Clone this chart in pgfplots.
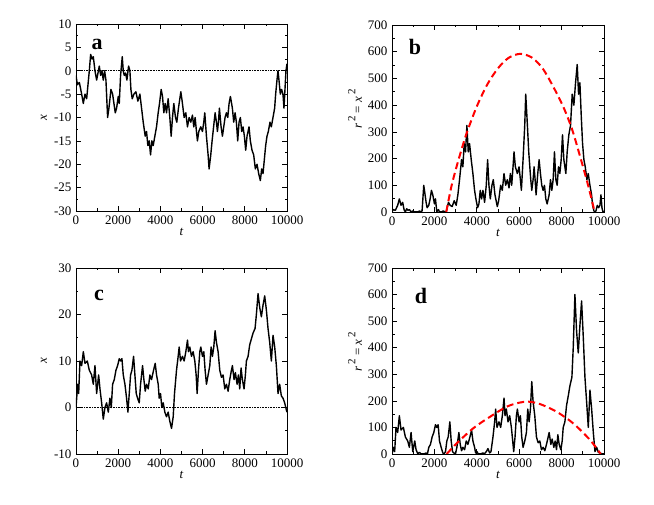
\documentclass[border=0pt]{standalone}
\usepackage{fontspec}
\setmainfont{Liberation Serif}
\usepackage{pgfplots}
\pgfplotsset{compat=1.18}

\pgfplotstableread{
t x
0 -1
63 -3
158 -2.5
268 -5
347 -7
426 -5
505 -6
568 -3
631 0
694 3.5
757 2.5
820 3
899 0
978 -2
1041 -0.5
1104 1
1167 -1
1230 0
1293 -2
1356 0
1419 -2
1498 -10
1561 -8
1609 -6
1656 -4
1735 -5
1798 -7
1861 -9
1924 -8
2003 -5.5
2050 -7
2113 -1
2192 3
2239 0
2287 -1
2350 -0.5
2413 -2
2492 1
2555 0
2602 -4
2665 -6
2744 -5
2839 -4.5
2933 -6.5
3028 -5
3107 -8
3186 -11
3280 -14
3343 -13
3406 -16
3469 -15
3533 -18
3596 -15
3659 -16
3737 -14
3816 -12
3895 -9
3958 -7
4037 -4
4100 -5.5
4163 -9
4226 -7
4290 -9
4368 -6
4447 -10
4510 -14
4573 -10
4636 -7
4715 -10
4778 -11
4857 -8
4968 -4.5
5031 -6.5
5125 -10
5204 -9
5283 -12
5362 -10
5441 -11
5520 -9.5
5583 -12
5646 -10
5709 -13
5756 -15
5819 -13
5914 -12
5993 -13
6056 -11
6103 -9
6182 -14
6261 -18
6308 -21
6387 -18
6450 -15
6545 -11
6593 -9
6656 -11
6703 -13
6750 -11
6797 -8
6876 -12
6939 -14
7002 -12
7065 -10
7128 -9
7192 -10
7255 -7
7318 -5.5
7412 -8
7475 -11
7539 -9
7601 -11
7664 -15
7728 -11
7791 -10
7854 -13
7917 -12
7980 -14
8043 -17
8106 -14
8200 -12
8263 -15
8342 -17
8421 -18
8500 -21
8579 -20
8658 -22
8737 -23.5
8800 -21
8863 -22
8926 -19
8989 -16
9052 -14
9115 -13
9194 -11
9257 -12
9336 -10
9415 -8
9462 -5
9525 -2
9573 0
9620 -2
9683 -5
9746 -4
9809 -5
9856 -8
9904 -4
9951 0
10000 1.5
}\dataA

\pgfplotstableread{
t r
0 1
63 9
158 6.25
268 25
347 49
426 25
505 36
568 9
631 0
694 12.25
757 6.25
820 9
899 0
978 4
1041 0.25
1104 1
1167 1
1230 0
1293 4
1356 0
1419 4
1498 100
1561 64
1609 36
1656 16
1735 25
1798 49
1861 81
1924 64
2003 30.25
2050 49
2113 1
2192 9
2239 0
2287 1
2350 0.25
2413 4
2492 1
2555 0
2602 16
2665 36
2744 25
2839 20.25
2933 42.25
3028 25
3107 64
3186 121
3280 196
3343 169
3406 256
3469 225
3533 324
3596 225
3659 256
3737 196
3816 144
3895 81
3958 49
4037 16
4100 30.25
4163 81
4226 49
4290 81
4368 36
4447 100
4510 196
4573 100
4636 49
4715 100
4778 121
4857 64
4968 20.25
5031 42.25
5125 100
5204 81
5283 144
5362 100
5441 121
5520 90.25
5583 144
5646 100
5709 169
5756 225
5819 169
5914 144
5993 169
6056 121
6103 81
6182 196
6261 324
6308 441
6387 324
6450 225
6545 121
6593 81
6656 121
6703 169
6750 121
6797 64
6876 144
6939 196
7002 144
7065 100
7128 81
7192 100
7255 49
7318 30.25
7412 64
7475 121
7539 81
7601 121
7664 225
7728 121
7791 100
7854 169
7917 144
7980 196
8043 289
8106 196
8200 144
8263 225
8342 289
8421 324
8500 441
8579 400
8658 484
8737 552.25
8800 441
8863 484
8926 361
8989 256
9052 196
9115 169
9194 121
9257 144
9336 100
9415 64
9462 25
9525 4
9573 0
9620 4
9683 25
9746 16
9809 25
9856 64
9904 16
9951 0
10000 2.25
}\dataB

\pgfplotstableread{
t x
0 0
79 5
126 3
189 10
268 9
347 12
426 9.5
536 10
631 8
741 7
820 5
899 9
978 3
1073 7
1136 4
1215 1
1293 -2.5
1372 0
1451 1
1530 -1
1609 2
1672 0
1735 5
1814 6
1893 8
1972 9
2050 10.5
2114 10
2177 10.5
2240 7
2319 5
2397 2
2461 -1
2524 3
2587 7
2650 8
2729 11
2792 7
2855 3
2918 2
2997 1
3060 5
3155 9
3218 6
3281 3.5
3344 5
3423 4
3502 7
3580 6
3675 8
3754 9.5
3817 7
3896 5
3943 2
4006 3
4069 0
4133 1
4211 -1
4290 -2
4369 -1
4448 -3
4527 -4.5
4606 -2
4669 3
4763 8
4842 11
4890 13
4953 10
5047 11
5126 10
5205 12
5284 14.5
5331 12
5394 13
5473 11
5552 12
5631 10
5694 7
5741 3
5804 8
5868 12
5915 13
5994 11
6057 12
6120 8
6183 5
6262 7
6341 9
6404 13
6467 11
6530 13
6593 16.5
6656 14
6735 12
6814 8
6893 6.5
6972 7
7051 4
7129 5
7208 3.5
7287 6
7366 8
7413 9
7492 6
7555 7.5
7634 5
7697 7
7760 4
7823 8.5
7886 6
7965 4
8028 7
8076 10
8155 11
8233 13.5
8328 15
8391 16
8486 17
8549 20
8628 24.5
8707 21.5
8786 19.5
8864 22
8943 24
9022 21
9101 17
9180 14
9259 10
9338 15.5
9417 13
9496 9
9575 3
9653 5
9732 2.5
9811 2
9890 1
9969 -0.5
10000 -1
}\dataC

\pgfplotstableread{
t r
0 0
79 25
126 9
189 100
268 81
347 144
426 90.25
536 100
631 64
741 49
820 25
899 81
978 9
1073 49
1136 16
1215 1
1293 6.25
1372 0
1451 1
1530 1
1609 4
1672 0
1735 25
1814 36
1893 64
1972 81
2050 110.25
2114 100
2177 110.25
2240 49
2319 25
2397 4
2461 1
2524 9
2587 49
2650 64
2729 121
2792 49
2855 9
2918 4
2997 1
3060 25
3155 81
3218 36
3281 12.25
3344 25
3423 16
3502 49
3580 36
3675 64
3754 90.25
3817 49
3896 25
3943 4
4006 9
4069 0
4133 1
4211 1
4290 4
4369 1
4448 9
4527 20.25
4606 4
4669 9
4763 64
4842 121
4890 169
4953 100
5047 121
5126 100
5205 144
5284 210.25
5331 144
5394 169
5473 121
5552 144
5631 100
5694 49
5741 9
5804 64
5868 144
5915 169
5994 121
6057 144
6120 64
6183 25
6262 49
6341 81
6404 169
6467 121
6530 169
6593 272.25
6656 196
6735 144
6814 64
6893 42.25
6972 49
7051 16
7129 25
7208 12.25
7287 36
7366 64
7413 81
7492 36
7555 56.25
7634 25
7697 49
7760 16
7823 72.25
7886 36
7965 16
8028 49
8076 100
8155 121
8233 182.25
8328 225
8391 256
8486 289
8549 400
8628 600.25
8707 462.25
8786 380.25
8864 484
8943 576
9022 441
9101 289
9180 196
9259 100
9338 240.25
9417 169
9496 81
9575 9
9653 25
9732 6.25
9811 4
9890 1
9969 0.25
10000 1
}\dataD

\newcommand{\lfont}{\fontsize{13}{13}\selectfont}
\newcommand{\rlabel}{\textit{r}\raisebox{0.5em}{\fontsize{11}{11}\selectfont\,2} = \textit{x}\raisebox{0.5em}{\fontsize{11}{11}\selectfont\,2}}

\pgfplotsset{
  panel/.style={
    scale only axis, width=211pt, height=187pt,
    xmin=0, xmax=10000, xtick={0,2000,...,10000},
    minor x tick num=1, minor y tick num=1,
    tick align=inside,
    major tick length=5pt, minor tick length=2.5pt,
    axis line style={line width=0.8pt},
    every tick/.append style={black, line width=0.7pt},
    scaled x ticks=false, scaled y ticks=false,
    /pgf/number format/1000 sep={},
    /pgf/number format/assume math mode=true,
    tick label style={font=\lfont},
    xticklabel style={yshift=-1pt},
    yticklabel style={xshift=-1pt},
    xlabel={\textit{t}},
    every axis x label/.style={at={(axis description cs:0.5,-0.112)}, anchor=center, font=\lfont},
  },
  walk/.style={black, line width=1.4pt, line join=round, no marks},
  fit/.style={red, line width=2pt, dash pattern=on 7pt off 4pt, smooth, no marks},
  zero/.style={black, densely dotted, line width=0.6pt, no marks},
}

\newcommand{\plab}[1]{\fontsize{22}{22}\selectfont\bfseries #1}

\begin{document}
\begin{tikzpicture}
\useasboundingbox (0,0) rectangle (654pt,505pt);

% panel a
\begin{axis}[panel, at={(76pt,294pt)}, anchor=south west,
  ymin=-30, ymax=10, ytick={-30,-25,...,10},
  ylabel={\textit{x}},
  every axis y label/.style={at={(axis description cs:-0.152,0.5)}, anchor=center, rotate=90, font=\lfont}]
\addplot[zero] coordinates {(0,0) (10000,0)};
\addplot[walk] table[x=t,y=x] {\dataA};
\node at (axis description cs:0.10,0.888) {\plab{a}};
\end{axis}

% panel b
\begin{axis}[panel, at={(392pt,293pt)}, anchor=south west, width=212pt,
  ymin=0, ymax=700, ytick={0,100,...,700},
  ylabel={\rlabel},
  every axis y label/.style={at={(axis description cs:-0.175,0.55)}, anchor=center, rotate=90, font=\lfont}]
\addplot[walk] table[x=t,y=r] {\dataB};
\addplot[fit] coordinates {(2560,0) (2800,95) (3100,185) (3500,290) (4000,395) (4500,478) (5000,538) (5500,577) (6050,592) (6600,578) (7100,538) (7600,470) (8100,390) (8500,308) (8900,200) (9250,100) (9560,0)};
\node at (axis description cs:0.108,0.88) {\plab{b}};
\end{axis}

% panel c
\begin{axis}[panel, at={(76pt,51pt)}, anchor=south west, height=186pt,
  ymin=-10, ymax=30, ytick={-10,0,...,30},
  ylabel={\textit{x}},
  every axis x label/.style={at={(axis description cs:0.5,-0.113)}, anchor=center, font=\lfont},
  every axis y label/.style={at={(axis description cs:-0.152,0.5)}, anchor=center, rotate=90, font=\lfont}]
\addplot[zero] coordinates {(0,0) (10000,0)};
\addplot[walk] table[x=t,y=x] {\dataC};
\node at (axis description cs:0.109,0.855) {\plab{c}};
\end{axis}

% panel d
\begin{axis}[panel, at={(392pt,51pt)}, anchor=south west, width=212pt, height=186pt,
  ymin=0, ymax=700, ytick={0,100,...,700},
  ylabel={\rlabel},
  every axis x label/.style={at={(axis description cs:0.5,-0.113)}, anchor=center, font=\lfont},
  every axis y label/.style={at={(axis description cs:-0.175,0.55)}, anchor=center, rotate=90, font=\lfont}]
\addplot[walk] table[x=t,y=r] {\dataD};
\addplot[fit] coordinates {(2580,0) (3052,40) (3835,97) (4623,140) (5410,178) (6000,193) (6430,197) (6981,188) (7767,159) (8552,115) (9340,53) (9844,0)};
\node at (axis description cs:0.137,0.85) {\plab{d}};
\end{axis}
\end{tikzpicture}
\end{document}
